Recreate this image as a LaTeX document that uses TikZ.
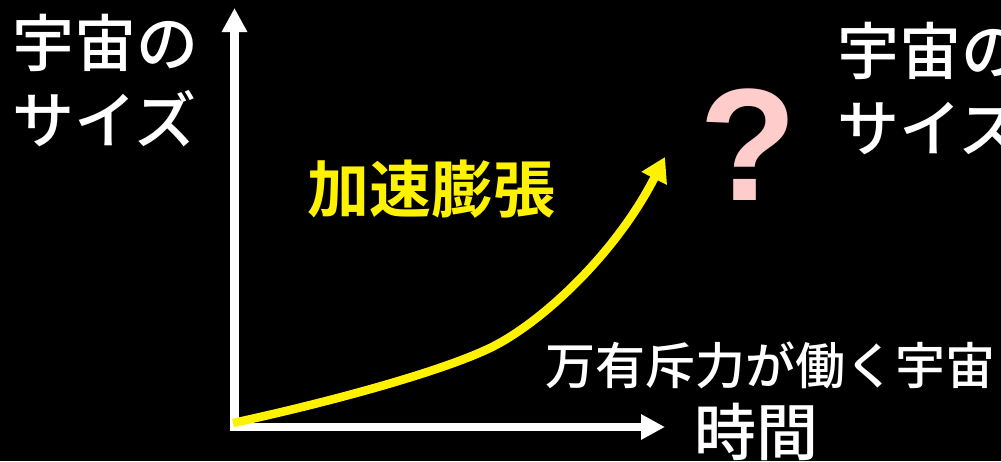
\documentclass[tikz,border=0pt]{standalone}
\usepackage{fontspec}
\usepackage{tikz}
\usetikzlibrary{arrows.meta}
\newfontfamily\jpfont{Noto Sans CJK JP Medium}
\newfontfamily\jpbold{Noto Sans CJK JP Bold}
\newfontfamily\qfont{Liberation Sans}
\definecolor{qpink}{HTML}{FFCCCC}
\tikzset{
  axis/.style={white, line width=8.5pt, line join=miter, -{Triangle[width=24pt,length=24pt]}},
  growth/.style={yellow, line width=8.5pt, -{Triangle[width=27pt,length=24pt]}},
  bigtext/.style={inner sep=0pt, text=white, font=\jpfont\fontsize{62}{77}\selectfont, align=left},
}
\begin{document}
\begin{tikzpicture}[x=1pt,y=-1pt]
\fill[black] (0,0) rectangle (1001,461);
\clip (0,0) rectangle (1001,461);
\coordinate (origin) at (234.5,427);
\coordinate (ytip) at (234.5,8);
\coordinate (xtip) at (665,427);
\coordinate (bend) at (490,348);
\coordinate (gtip) at (665,157);
\draw[axis] (234.5,431) -- (ytip);
\draw[axis] (230,427) -- (xtip);
\draw[growth] (233,423) .. controls (330,402) and (440,372) .. (bend)
  .. controls (540,324) and (615,255) .. (gtip);
\node[bigtext, anchor=base west] (size) at (12,143) {宇宙の\\サイズ};
\node[bigtext, anchor=base west] (size2) at (837,151) {宇宙の\\サイズ};
\node[bigtext, anchor=base west, text=yellow, font=\jpbold\fontsize{62}{77}\selectfont] (accel) at (307,212) {加速膨張};
\node[bigtext, anchor=base west, font=\jpfont\fontsize{50}{60}\selectfont] (repul) at (545,384) {万有斥力が働く宇宙};
\node[bigtext, anchor=base west] (time) at (694,455) {時間};
\node[inner sep=0pt, anchor=base, text=qpink, font=\qfont\bfseries\fontsize{160}{160}\selectfont] (q) at (748,200) {?};
\end{tikzpicture}
\end{document}
